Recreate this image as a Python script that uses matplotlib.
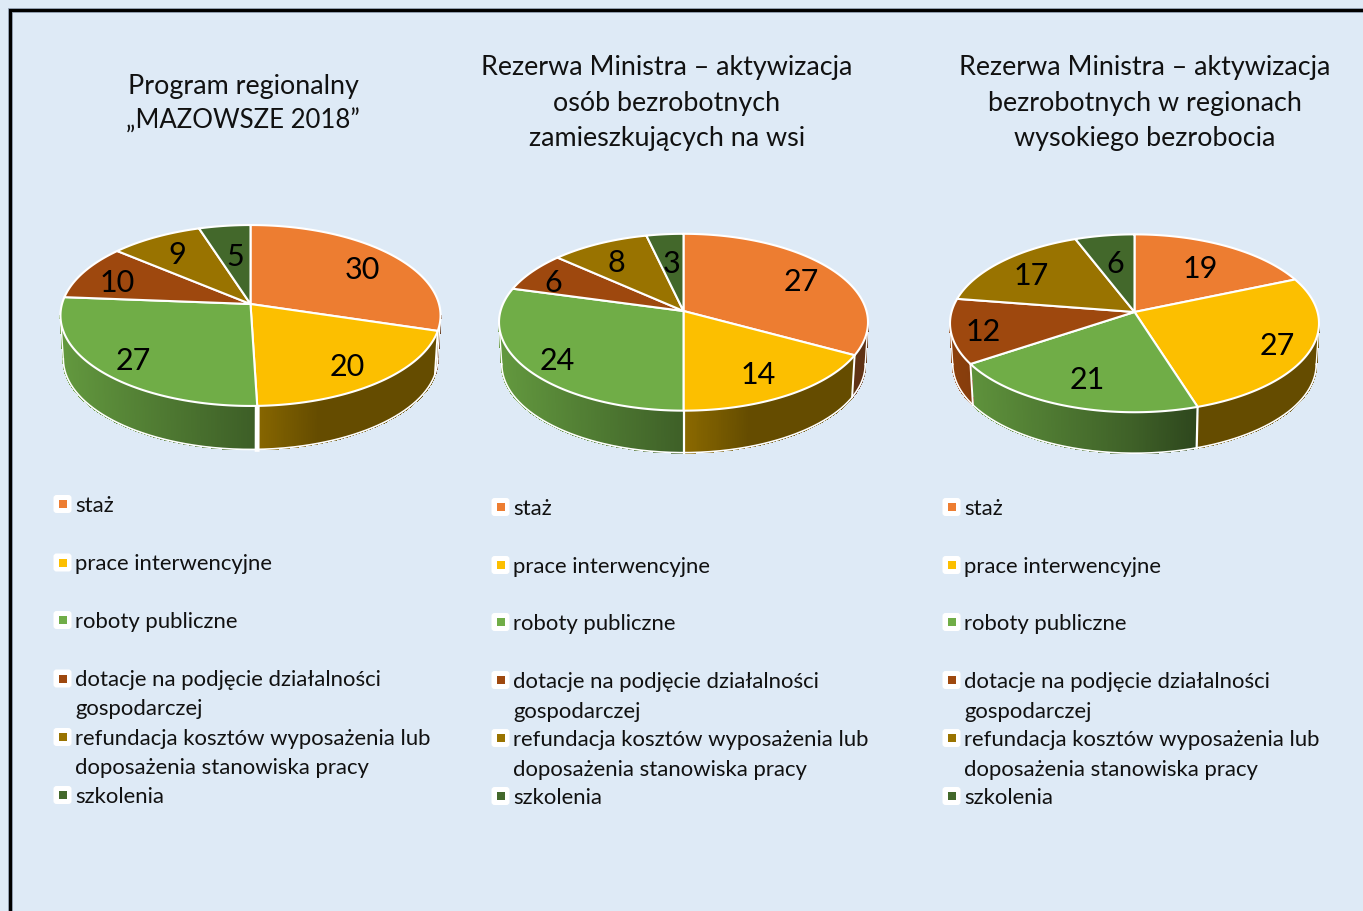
import numpy as np
import matplotlib
matplotlib.use("Agg")
import matplotlib.pyplot as plt
from matplotlib.patches import FancyBboxPatch, Rectangle

plt.rcParams['font.family'] = ['Lato', 'DejaVu Sans']

# Data
categories = ["staż", "prace interwencyjne", "roboty publiczne",
              "dotacje na podjęcie działalności\ngospodarczej",
              "refundacja kosztów wyposażenia lub\ndoposażenia stanowiska pracy",
              "szkolenia"]
colors = ["#ED7D31", "#FCBF00", "#70AD47", "#9E480E", "#997300", "#43682B"]

mazowsze = [30, 20, 27, 10, 9, 5]
wies = [27, 14, 24, 6, 8, 3]
regiony = [19, 27, 21, 12, 17, 6]

title_mazowsze = ["Program regionalny", "„MAZOWSZE 2018”"]
title_wies = ["Rezerwa Ministra – aktywizacja", "osób bezrobotnych", "zamieszkujących na wsi"]
title_regiony = ["Rezerwa Ministra – aktywizacja", "bezrobotnych w regionach", "wysokiego bezrobocia"]

# Label centres in pixels, same order as values
labels_mazowsze = [(362, 269), (347, 366), (133, 360), (117, 282), (177, 254), (235, 256)]
labels_wies = [(801, 281), (758, 374), (557, 360), (553, 282), (616, 262), (672, 263)]
labels_regiony = [(1200, 268), (1277, 345), (1087, 379), (983, 331), (1031, 275), (1115, 263)]

BG = "#DEEAF6"
K = 0.127  # perspective of the pie top
BOTTOM_SCALE = 0.985  # lower rim is a bit narrower
VISIBLE = (np.degrees(np.arccos(-K)), 360 - np.degrees(np.arccos(-K)))


def project(t_deg, cx, cy, sx, sy):
    """Angle clockwise from 12 o'clock -> pixel on the tilted rim."""
    t = np.radians(t_deg)
    w = 1 + K * np.cos(t)
    return cx + sx * np.sin(t) / w, cy - sy * np.cos(t) / w


def shade(color, x_rel):
    f = np.interp(x_rel, [-1, 0, 0.35, 1], [0.88, 0.55, 0.40, 0.40])
    return np.array(matplotlib.colors.to_rgb(color)) * f


def draw_pie(ax, values, cx, cy, sx, sy, depth, seam=1.6):
    values = np.array(values, dtype=float)
    edges = np.concatenate([[0], np.cumsum(values) / values.sum() * 360])
    rx = sx / np.sqrt(1 - K ** 2)

    def low_x(x):
        return cx + (x - cx) * BOTTOM_SCALE

    # side wall first
    for i, c in enumerate(colors):
        a = max(edges[i], VISIBLE[0])
        b = min(edges[i + 1], VISIBLE[1])
        if b <= a:
            continue
        ts = np.linspace(a, b, max(int((b - a) * 2), 2))
        for t0, t1 in zip(ts[:-1], ts[1:]):
            x0, y0 = project(t0, cx, cy, sx, sy)
            x1, y1 = project(t1, cx, cy, sx, sy)
            col = shade(c, ((x0 + x1) / 2 - cx) / rx)
            ax.fill([x0, x1, low_x(x1), low_x(x0)], [y0, y1, y1 + depth, y0 + depth],
                    facecolor=col, edgecolor=col, linewidth=0.8, antialiased=False, zorder=2)

    # white outline of the wall
    ts = np.linspace(VISIBLE[0], VISIBLE[1], 300)
    xs, ys = project(ts, cx, cy, sx, sy)
    ax.plot(low_x(xs), ys + depth, color="white", lw=1.2, zorder=3)
    for t in VISIBLE:
        x, y = project(t, cx, cy, sx, sy)
        ax.plot([x, low_x(x)], [y, y + depth], color="white", lw=1.0, zorder=3)
    for e in edges[1:-1]:
        if VISIBLE[0] < e < VISIBLE[1]:
            x, y = project(e, cx, cy, sx, sy)
            # only the seam near the front gets the wider gap
            lw = seam if abs(e - 180) < 20 else 1.4
            ax.plot([x, low_x(x)], [y, y + depth], color="white", lw=lw, zorder=3)

    # top of the pie
    for i, c in enumerate(colors):
        ts = np.linspace(edges[i], edges[i + 1], 120)
        xs, ys = project(ts, cx, cy, sx, sy)
        ax.fill(np.r_[cx, xs], np.r_[cy, ys], facecolor=c, edgecolor="white",
                linewidth=1.5, joinstyle="round", zorder=4)


def draw_labels(ax, values, positions):
    for v, (x, y) in zip(values, positions):
        ax.text(x, y + 10.5, str(v), fontsize=LABEL_SIZE, color="black",
                ha="center", va="baseline", zorder=5)


def draw_legend(ax, box_x, text_x, baselines):
    # baselines: one y per text line
    row = 0
    for name, c in zip(categories, colors):
        lines = name.split("\n")
        y = baselines[row]
        ax.add_patch(FancyBboxPatch((box_x - 7, y - 14), 14, 14, boxstyle="round,pad=2,rounding_size=3",
                                    facecolor="white", edgecolor="none", zorder=2))
        ax.add_patch(Rectangle((box_x - 4, y - 11), 8, 8, facecolor=c, edgecolor="none", zorder=3))
        for line in lines:
            ax.text(text_x, baselines[row], line, fontsize=LEGEND_SIZE, color="#111111",
                    ha="left", va="baseline", zorder=3)
            row += 1


def draw_title(ax, lines, x, baselines, sizes=None):
    sizes = sizes or [TITLE_SIZE] * len(lines)
    for line, y, s in zip(lines, baselines, sizes):
        ax.text(x, y, line, fontsize=s, color="#111111", ha="center", va="baseline")


LABEL_SIZE = 22
LEGEND_SIZE = 15.9
TITLE_SIZE = 19.4

fig = plt.figure(figsize=(13.63, 9.12), dpi=100, facecolor=BG)
ax = fig.add_axes([0, 0, 1, 1])
ax.set_xlim(0, 1363)
ax.set_ylim(912, 0)
ax.axis("off")

# frame, open at right and bottom
ax.plot([9.5, 9.5, 1363], [915, 10.5, 10.5], color="#8a97a8", lw=3.4, solid_joinstyle="miter", zorder=1)
ax.plot([9.5, 9.5, 1363], [915, 10.5, 10.5], color="black", lw=2.2, solid_joinstyle="miter", zorder=1)

draw_title(ax, title_mazowsze, 243, [94, 129], [TITLE_SIZE, 18.5])
draw_title(ax, title_wies, 667, [75, 111, 146])
draw_title(ax, title_regiony, 1145, [75, 111, 146])

draw_pie(ax, mazowsze, 250.5, 305, 188.5, 89, 43.5, seam=3.5)
draw_pie(ax, wies, 683.5, 312, 183, 87, 42)
draw_pie(ax, regiony, 1134.5, 313, 183, 87.5, 41)

draw_labels(ax, mazowsze, labels_mazowsze)
draw_labels(ax, wies, labels_wies)
draw_labels(ax, regiony, labels_regiony)

draw_legend(ax, 62.5, 75, [512, 570.5, 628, 686.5, 715, 745, 774, 803])
draw_legend(ax, 500.5, 513, [515, 573, 630, 688, 718, 746, 776, 804])
draw_legend(ax, 951.5, 964, [515, 573, 630, 688, 718, 746, 776, 804])

fig.savefig("out.png", dpi=100, facecolor=BG)
